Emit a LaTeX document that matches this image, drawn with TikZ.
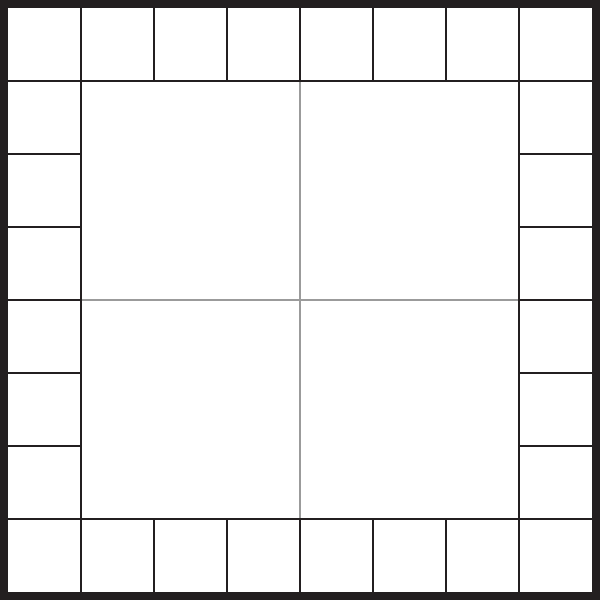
\documentclass[tikz,border=0pt]{standalone}
\usetikzlibrary{positioning}
\definecolor{BoardInk}{RGB}{35,31,32}
\definecolor{BoardGray}{RGB}{155,155,155}
\tikzset{
  board/frame/.style={fill=BoardInk},
  board/field/.style={fill=white},
  board/line/.style={draw=BoardInk, line width=1.5pt},
  board/split/.style={draw=BoardGray, line width=1.2pt}
}

\begin{document}
\begin{tikzpicture}[x=0.025cm,y=0.025cm]
  \useasboundingbox (0,0) rectangle (600,600);
  \fill[board/frame] (0,0) rectangle (600,600);
  \fill[board/field] (8,8) rectangle (592,592);
  % centre split
  \draw[board/split] (300,81) -- (300,519);
  \draw[board/split] (81,300) -- (519,300);
  % inner square
  \draw[board/line] (81,81) rectangle (519,519);
  % edge squares
  \foreach \p in {81,154,227,300,373,446,519}
  {
    \draw[board/line] (\p,8) -- (\p,81);
    \draw[board/line] (\p,519) -- (\p,592);
    \draw[board/line] (8,\p) -- (81,\p);
    \draw[board/line] (519,\p) -- (592,\p);
  }
\end{tikzpicture}
\end{document}
